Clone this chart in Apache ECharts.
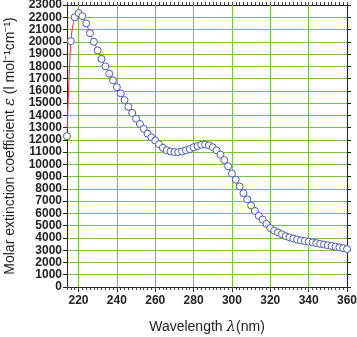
<!DOCTYPE html>
<html><head><meta charset="utf-8">
<script src="https://cdn.jsdelivr.net/npm/echarts@6/dist/echarts.min.js"></script>
<style>html,body{margin:0;padding:0;background:#fff}#c{width:357px;height:337px}</style>
</head><body><div id="c"></div>
<script>
const wavelengths = [214,216,218,220,222,224,226,228,230,232,234,236,238,240,242,244,246,248,250,252,254,256,258,260,262,264,266,268,270,272,274,276,278,280,282,284,286,288,290,292,294,296,298,300,302,304,306,308,310,312,314,316,318,320,322,324,326,328,330,332,334,336,338,340,342,344,346,348,350,352,354,356,358,360];
const epsilon = [12300,20050,22000,22350,22100,21500,20700,20000,19300,18600,18000,17400,16850,16300,15800,15250,14700,14200,13730,13300,12900,12500,12200,11950,11650,11350,11150,11050,11000,11000,11050,11150,11250,11400,11500,11600,11620,11550,11400,11150,10800,10350,9850,9250,8750,8200,7650,7150,6650,6200,5800,5500,5150,4800,4600,4450,4300,4150,4050,3950,3870,3800,3750,3700,3640,3580,3520,3460,3400,3350,3290,3230,3170,3100];
const xMajorTicks = [220,240,260,280,300,320,340,360];
const yMin = 0, yMax = 23000, yStep = 1000;
const xMin = 214, xMax = 360;

const green = '#7cc142';
const font = 'Liberation Sans, Arial, sans-serif';
const chart = echarts.init(document.getElementById('c'), null, {renderer:'canvas'});
chart.setOption({
  animation:false,
  grid:{left:67,right:10,top:5,bottom:50,containLabel:false,outerBoundsMode:'none'},
  xAxis:[{
    type:'value', min:xMin, max:xMax, position:'bottom',
    axisLine:{lineStyle:{color:'#222',width:1}},
    axisTick:{show:true, customValues:xMajorTicks, length:5, lineStyle:{color:'#222'}},
    axisLabel:{customValues:xMajorTicks, color:'#222', fontFamily:font, fontWeight:'bold', fontSize:12, margin:8},
    splitLine:{show:false},
    name:'{t|Wavelength }{l|λ}{t|(nm)}', nameLocation:'middle', nameGap:33,
    nameTextStyle:{rich:{t:{fontFamily:font,fontSize:14,color:'#222'},l:{fontFamily:'DejaVu Serif, serif',fontStyle:'italic',fontSize:15,color:'#222'}}}
  },{
    type:'value', min:xMin, max:xMax, interval:2, position:'bottom',
    axisLine:{show:true,lineStyle:{color:'#222'}}, axisTick:{show:true,length:3,lineStyle:{color:'#444'}},
    axisLabel:{show:false}, splitLine:{show:false}
  },{
    type:'value', min:xMin, max:xMax, interval:2, position:'top',
    axisLine:{show:true,lineStyle:{color:'#222'}}, axisTick:{show:true,length:3,lineStyle:{color:'#444'}},
    axisLabel:{show:false}, splitLine:{show:false}
  }],
  yAxis:[{
    type:'value', min:yMin, max:yMax, interval:yStep, position:'left',
    axisLine:{show:true,lineStyle:{color:'#222'}},
    axisTick:{show:true,length:4,lineStyle:{color:'#222'}},
    axisLabel:{color:'#222',fontFamily:font,fontWeight:'bold',fontSize:12,margin:5,formatter:v=>String(v)},
    splitLine:{show:true,lineStyle:{color:green,width:1}},
    name:'Molar extinction coefficient {e|ε} (l mol⁻¹cm⁻¹)', nameLocation:'middle', nameGap:48, nameRotate:90,
    nameTextStyle:{fontFamily:font,fontSize:14,color:'#222',rich:{e:{fontFamily:'DejaVu Serif, serif',fontStyle:'italic',fontSize:15,color:'#222'}}}
  },{
    type:'value', min:yMin, max:yMax, interval:yStep, position:'right',
    axisLine:{show:true,lineStyle:{color:'#222'}},
    axisTick:{show:true,length:4,lineStyle:{color:'#222'}},
    axisLabel:{show:false}, splitLine:{show:false}
  }],
  series:[{
    type:'line', xAxisIndex:0, yAxisIndex:0,
    data: wavelengths.map((w,i)=>[w,epsilon[i]]),
    smooth:0.3,
    lineStyle:{color:'#e03030',width:1},
    symbol:'circle', symbolSize:7,
    itemStyle:{color:'#ffffff',borderColor:'#4a5ab0',borderWidth:1},
    z:5,
    markLine:{
      silent:true, symbol:['none','none'], label:{show:false}, animation:false, z:1,
      lineStyle:{color:green,width:1,type:'solid'},
      emphasis:{disabled:true},
      data: xMajorTicks.filter(v=>v<xMax).map(v=>({xAxis:v}))
    }
  }]
});
</script></body></html>
